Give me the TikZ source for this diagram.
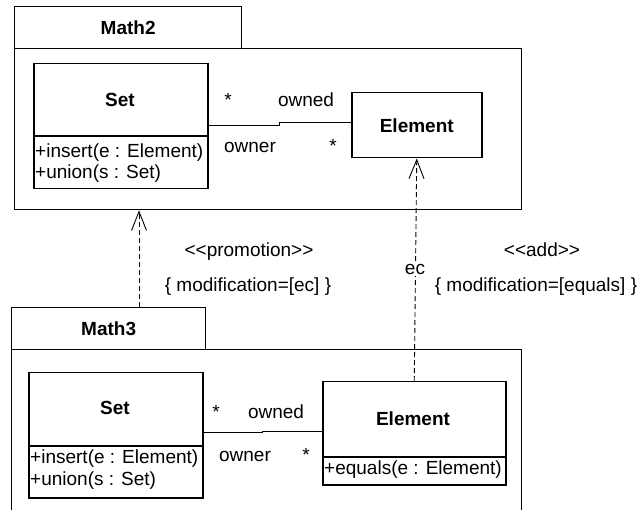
\documentclass[tikz,border=0pt]{standalone}
\usepackage{fontspec}
\setmainfont{Liberation Sans}
\usetikzlibrary{arrows.meta}
\begin{document}
\begin{tikzpicture}[x=1pt,y=-1pt,
  every node/.style={font=\fontsize{19}{21}\selectfont, inner sep=0pt},
  box/.style={draw, line width=1.5pt, inner sep=0pt, anchor=north west},
  pkg/.style={draw, line width=1.3pt, inner sep=0pt, anchor=north west},
  ttl/.style={font=\fontsize{19}{21}\selectfont\bfseries},
  lbl/.style={anchor=base},
  op/.style={anchor=base west},
  dep/.style={dash pattern=on 5pt off 3pt, line width=0.9pt,
    -{Straight Barb[length=19pt,width=15pt,line width=0.9pt]}},
  assoc/.style={line width=1pt}]
\useasboundingbox (0,0) rectangle (640,510);

% ---------- Math2 ----------
\node[pkg, ttl, minimum width=227pt, minimum height=42pt] (m2tab) at (14,6) {Math2};
\node[pkg, minimum width=507pt, minimum height=161pt] (m2body) at (14,48) {};

\node[box, minimum width=174pt, minimum height=125pt] (set2) at (33,63) {};
\draw[line width=1.5pt] (set2.west |- 0,136) -- (set2.east |- 0,136);
\node[ttl] (set2name) at (120,100) {Set};
\node[op] (set2op1) at (35,158) {+insert(e : Element)};
\node[op] (set2op2) at (35,179) {+union(s : Set)};

\node[box, ttl, minimum width=130pt, minimum height=65pt] (el2) at (351,92) {Element};

\draw[assoc] (set2.east |- 0,126) -- (279,126) -- (279,123) -- (el2.west |- 0,123);
\node[lbl] (m2s1) at (228,107) {*};
\node[lbl] (m2owned) at (306,107) {owned};
\node[lbl] (m2owner) at (250,153) {owner};
\node[lbl] (m2s2) at (333,153) {*};

% ---------- Math3 ----------
\node[pkg, ttl, minimum width=194pt, minimum height=42pt] (m3tab) at (11,307) {Math3};
\node[pkg, minimum width=510pt, minimum height=175pt] (m3body) at (11,349) {};

\node[box, minimum width=174pt, minimum height=125pt] (set3) at (28,372) {};
\draw[line width=1.5pt] (set3.west |- 0,446) -- (set3.east |- 0,446);
\node[ttl] (set3name) at (115,408) {Set};
\node[op] (set3op1) at (30,464) {+insert(e : Element)};
\node[op] (set3op2) at (30,485) {+union(s : Set)};

\node[box, minimum width=183pt, minimum height=103pt] (el3) at (322,381) {};
\draw[line width=1.5pt] (el3.west |- 0,457) -- (el3.east |- 0,457);
\node[ttl] (el3name) at (413,419) {Element};
\node[op] (el3op1) at (324,474) {+equals(e : Element)};

\draw[assoc] (set3.east |- 0,433) -- (262,433) -- (262,432) -- (el3.west |- 0,432);
\node[lbl] (m3s1) at (216,419) {*};
\node[lbl] (m3owned) at (276,419) {owned};
\node[lbl] (m3owner) at (245,461) {owner};
\node[lbl] (m3s2) at (306,461) {*};

% ---------- dependencies ----------
\draw[dep] (m3tab.north -| 139,0) -- (m2body.south -| 139,0);
\draw[dep] (el3.north) -- (el2.south);
\node[lbl, fill=white, inner sep=1pt] (ec) at (415,275) {ec};

\node[lbl] (promo) at (249,257) {{<}{<}promotion{>}{>}};
\node[lbl] (promomod) at (248,292) {\{ modification=[ec] \}};
\node[lbl] (add) at (542,257) {{<}{<}add{>}{>}};
\node[lbl] (addmod) at (536,292) {\{ modification=[equals] \}};
\end{tikzpicture}
\end{document}
